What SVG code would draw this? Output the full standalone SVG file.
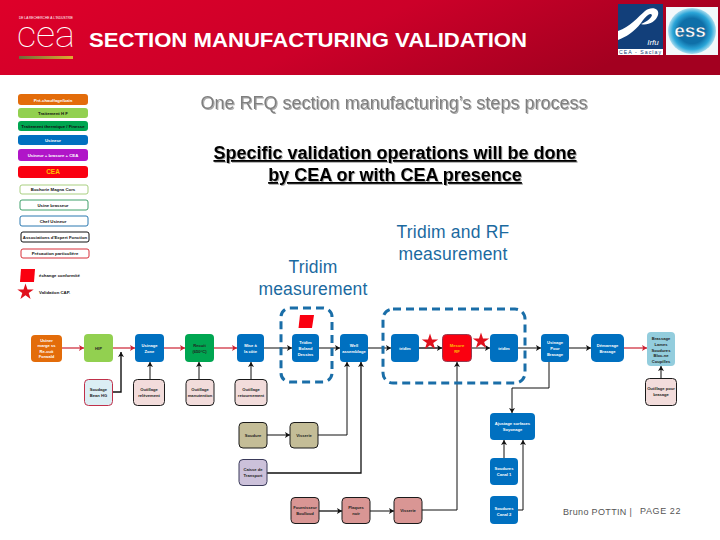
<svg xmlns="http://www.w3.org/2000/svg" width="720" height="540" viewBox="0 0 720 540">
<style>
text{font-family:"Liberation Sans",Arial,sans-serif;text-anchor:middle}
.n{stroke:none}
.k{stroke:#1a1a1a;stroke-width:1}
.l{font-size:4.1px;fill:#fff;font-weight:bold}
.d{font-size:4.1px;fill:#222;font-weight:bold}
.lg{font-size:4.3px;font-weight:bold;fill:#111}
.lw{font-size:4.3px;font-weight:bold;fill:#fff}
.lo{fill:#fff;stroke-width:1}
.wire{fill:none;stroke:#111;stroke-width:1;marker-end:url(#ab)}
.gw{fill:none;stroke:#666;stroke-width:1.6;marker-end:url(#ab)}
.rw{fill:none;stroke:#cc2233;stroke-width:1.2;marker-end:url(#ar)}
.dash{fill:none;stroke:#1a6ea8;stroke-width:3;stroke-dasharray:8 5}
.blue{font-size:17.500px;letter-spacing:.2px;fill:#1b6a9f}
.head{font-size:18px;font-weight:bold;fill:#000;text-decoration:underline}
</style>
<defs>
<linearGradient id="hd" x1="0" y1="0" x2="1" y2="0.25"><stop offset="0" stop-color="#de0029"/><stop offset="0.55" stop-color="#cc0029"/><stop offset="1" stop-color="#a30020"/></linearGradient>
<linearGradient id="bar"><stop offset="0" stop-color="#6e6a3a"/><stop offset="1" stop-color="#e0aa30"/></linearGradient>
<radialGradient id="essg" cx="0.5" cy="0.5" r="0.5"><stop offset="0.55" stop-color="#0f6fa8"/><stop offset="0.8" stop-color="#2aa5d8"/><stop offset="1" stop-color="#a8dcef"/></radialGradient>
<filter id="sh" x="-5%" y="-20%" width="110%" height="150%"><feDropShadow dx="1" dy="1" stdDeviation="0.5" flood-color="#000" flood-opacity="0.35"/></filter>
<marker id="ab" markerWidth="6" markerHeight="6" refX="5" refY="3" orient="auto" markerUnits="userSpaceOnUse"><path d="M0 0L5 3L0 6L1.2 3Z" fill="#111"/></marker>
<marker id="ar" markerWidth="6" markerHeight="6" refX="5" refY="3" orient="auto" markerUnits="userSpaceOnUse"><path d="M0 0L5 3L0 6L1.2 3Z" fill="#cc2233"/></marker>
<path id="star" d="M0-8.5L2-2.6H8.2L3.2 1L5.1 7L0 3.3L-5.1 7L-3.2 1L-8.2-2.6H-2Z" fill="#e0101c"/>
</defs>

<g id="header">
<rect width="720" height="75" fill="url(#hd)"/>
<text x="46" y="19" font-size="4" fill="#fff" textLength="54" lengthAdjust="spacingAndGlyphs">DE LA RECHERCHE À L'INDUSTRIE</text>
<text x="46" y="47" font-size="37" fill="#fff" style="font-family:Roboto,'Liberation Sans',sans-serif;font-weight:100" textLength="58" lengthAdjust="spacingAndGlyphs">cea</text>
<rect x="19" y="56" width="54" height="3" fill="url(#bar)"/>
<text x="89" y="47" font-size="21" fill="#fff" style="text-anchor:start;font-weight:bold" textLength="438" lengthAdjust="spacingAndGlyphs">SECTION MANUFACTURING VALIDATION</text>
</g>
<g id="logo-irfu">
<rect x="618" y="4" width="45" height="51" fill="#123f7a"/>
<rect x="618" y="49" width="45" height="6" fill="#fff"/>
<path d="M618 31C630 27 638 17 645 11C651 6 660 8 658 15C656 22 647 26 641 24C646 22 651 19 652 15C650 12 646 16 641 23C634 32 626 37 618 40Z" fill="#fff"/>
<text x="653" y="45" font-size="8" fill="#fff" font-style="italic">Irfu</text>
<text x="640" y="54" font-size="5.2" fill="#123f7a" textLength="42" lengthAdjust="spacing">CEA - Saclay</text>
</g>
<g id="logo-ess">
<rect x="666" y="7" width="52" height="48" fill="#f2f8fb"/>
<ellipse cx="692" cy="31" rx="24" ry="23" fill="url(#essg)"/>
<text x="690" y="37" font-size="19" fill="#fff" font-weight="bold" stroke="#0f4f80" stroke-width=".4">ess</text>
</g>

<g id="titles">
<text x="394" y="109" font-size="18" fill="#7f7f7f" filter="url(#sh)">One RFQ section manufacturing’s steps process</text>
<text x="395" y="159" class="head" filter="url(#sh)">Specific validation operations will be done</text>
<text x="395" y="181" class="head" filter="url(#sh)">by CEA or with CEA presence</text>
<text x="453" y="238" class="blue">Tridim and RF</text>
<text x="453" y="260" class="blue">measurement</text>
<text x="313" y="273" class="blue">Tridim</text>
<text x="313" y="295" class="blue">measurement</text>
</g>

<g id="legend">
<g id="lg1"><rect x="18" y="94" width="70" height="11" rx="3" fill="#e36c0a"/><text x="53" y="101.500" class="lw">Pré-chauffage/bain</text></g>
<g id="lg2"><rect x="18" y="108" width="70" height="10" rx="3" fill="#92d050"/><text x="53" y="114.500" class="lg">Traitement H F</text></g>
<g id="lg3"><rect x="18" y="121" width="70" height="10" rx="3" fill="#00a651"/><text x="53" y="127.500" class="lg">Traitement thermique / Finesse</text></g>
<g id="lg4"><rect x="18" y="135" width="70" height="10" rx="3" fill="#0070c0"/><text x="53" y="141.500" class="lw">Usineur</text></g>
<g id="lg5"><rect x="18" y="149" width="70" height="12" rx="3" fill="#b015c8"/><text x="53" y="156.500" class="lw">Usineur + brasure + CEA</text></g>
<g id="lg6"><rect x="18" y="166" width="70" height="12" rx="3" fill="#fa0010"/><text x="53" y="174" font-size="6.5" font-weight="bold" fill="#ffc000">CEA</text></g>
<g id="lg7"><rect x="20" y="185" width="68" height="9" rx="2" class="lo" stroke="#a9cf80"/><text x="53" y="191" class="lg">Bochorie Magna Cors</text></g>
<g id="lg8"><rect x="20" y="200" width="68" height="10" rx="2" class="lo" stroke="#3fa06a"/><text x="53" y="206.500" class="lg">Usine brasseur</text></g>
<g id="lg9"><rect x="20" y="216" width="68" height="10" rx="2" class="lo" stroke="#2a78b0"/><text x="53" y="222.500" class="lg">Chef Usineur</text></g>
<g id="lg10"><rect x="21" y="232" width="68" height="10" rx="2" class="lo" stroke="#111"/><text x="55" y="238.500" class="lg">Associations d'Expert Fonction</text></g>
<g id="lg11"><rect x="21" y="249" width="68" height="9" rx="2" class="lo" stroke="#d8303a"/><text x="55" y="255" class="lg">Précaution particulière</text></g>
<g id="lg12"><path d="M21 269H35L34 282H20Z" fill="#fa0010"/><text x="39" y="277" class="lg" style="text-anchor:start">échange conformité</text></g>
<g id="lg13"><use href="#star" transform="translate(25.500,292)"/><text x="39" y="294" class="lg" style="text-anchor:start">Validation CAP.</text></g>
</g>

<g id="connectors">
<path class="rw" d="M62 348H84"/>
<path class="rw" d="M113 348H135"/>
<path class="rw" d="M164 348H185"/>
<path class="rw" d="M214 348H237"/>
<path class="gw" d="M264 348H292"/>
<path class="gw" d="M319 348H340"/>
<path class="gw" d="M368 348H391"/>
<path class="wire" d="M419 348H442" style="stroke-width:1.400"/>
<path class="gw" d="M472 348H490"/>
<path class="gw" d="M518 348H541"/>
<path class="gw" d="M569 348H591"/>
<path class="rw" d="M624 348H647"/>
<path class="wire" d="M112 392H121V352" style="stroke-width:1.400"/>
<path class="wire" d="M150 379V362"/>
<path class="wire" d="M199 379V362"/>
<path class="wire" d="M251 379V362"/>
<path class="gw" d="M661 378V366"/>
<path class="gw" d="M267 435H290"/>
<path class="wire" d="M318 435H347V362"/>
<path class="wire" d="M267 473H361V362" style="stroke-width:1.300"/>
<path class="wire" d="M319 511H342" style="stroke-width:1.300"/>
<path class="gw" d="M370 511H394"/>
<path class="wire" d="M422 510H457V362"/>
<path class="wire" d="M549 362V388H512V413"/>
<path class="wire" d="M504 458V440"/>
<path class="wire" d="M518 510H523V440"/>
</g>

<g id="dashed">
<rect class="dash" x="281" y="308" width="51" height="74" rx="9"/>
<rect class="dash" x="383" y="309" width="142" height="74" rx="10"/>
</g>

<g id="n-usiner"><rect x="31" y="335" width="31" height="27" rx="4" fill="#e36c0a"/><text class="l" x="46.500" y="341.500">Usiner</text><text class="l" x="46.500" y="347">marge ss</text><text class="l" x="46.500" y="352.500">Re-cuit</text><text class="l" x="46.500" y="358">Forwald</text></g>
<g id="n-hip"><rect x="84" y="334" width="29" height="28" rx="4" fill="#92d050"/><text class="d" x="98.500" y="350">HIP</text></g>
<g id="n-usinage"><rect x="135" y="334" width="29" height="28" rx="4" fill="#0070c0"/><text class="l" x="149.500" y="347">Usinage</text><text class="l" x="149.500" y="353">Zone</text></g>
<g id="n-recuit"><rect x="185" y="334" width="29" height="28" rx="4" fill="#00a651"/><text class="d" x="199.500" y="347">Recuit</text><text class="d" x="199.500" y="353">(650°C)</text></g>
<g id="n-mise"><rect x="237" y="334" width="27" height="28" rx="4" fill="#0070c0"/><text class="l" x="250.500" y="347">Mise à</text><text class="l" x="250.500" y="353">la côte</text></g>
<g id="n-tridim1"><rect x="292" y="334" width="27" height="28" rx="4" fill="#0070c0"/><text class="l" x="305.500" y="344">Tridim</text><text class="l" x="305.500" y="350">Boland</text><text class="l" x="305.500" y="356">Dessins</text></g>
<g id="n-well"><rect x="340" y="334" width="28" height="28" rx="4" fill="#0070c0"/><text class="l" x="354" y="347">Well</text><text class="l" x="354" y="353">assemblage</text></g>
<g id="n-tridim2"><rect x="391" y="334" width="28" height="28" rx="4" fill="#0070c0"/><text class="l" x="405" y="350">tridim</text></g>
<g id="n-rf"><rect x="442.500" y="334.500" width="29" height="27" rx="4" fill="#fa0010" stroke="#953b50"/><text class="l" x="457" y="347" style="fill:#ffc000">Mesure</text><text class="l" x="457" y="353" style="fill:#ffc000">RF</text></g>
<g id="n-tridim3"><rect x="490" y="334" width="28" height="28" rx="4" fill="#0070c0"/><text class="l" x="504" y="350">tridim</text></g>
<g id="n-etalage"><rect x="541" y="334" width="28" height="28" rx="4" fill="#0070c0"/><text class="l" x="555" y="344">Usinage</text><text class="l" x="555" y="350">Pour</text><text class="l" x="555" y="356">Brasage</text></g>
<g id="n-demarrage"><rect x="591" y="334" width="33" height="28" rx="5" fill="#0070c0"/><text class="l" x="607.500" y="347">Démarrage</text><text class="l" x="607.500" y="353">Brasage</text></g>
<g id="n-brassage"><rect x="647" y="332" width="28" height="34" rx="4" fill="#93cddd"/><text class="d" x="661" y="339.500">Brassage</text><text class="d" x="661" y="345.500">Lames</text><text class="d" x="661" y="351.500">Soudures</text><text class="d" x="661" y="357">Bloc-ne</text><text class="d" x="661" y="362.500">Coupilles</text></g>

<g id="n-soudage"><rect x="84.500" y="379.500" width="28" height="26" rx="4" fill="#dbeef4" stroke="#c0304a"/><text class="d" x="98.500" y="391">Soudage</text><text class="d" x="98.500" y="397">Bean HG</text></g>
<g id="n-out1"><rect x="133.500" y="379.500" width="31" height="26" rx="4" fill="#f2dcdb" class="k"/><text class="d" x="149" y="391">Outillage</text><text class="d" x="149" y="397">relèvement</text></g>
<g id="n-out2"><rect x="186" y="379.500" width="28" height="26" rx="4" fill="#f2dcdb" class="k"/><text class="d" x="200" y="391">Outillage</text><text class="d" x="200" y="397">manutention</text></g>
<g id="n-out3"><rect x="235" y="379.500" width="32" height="26" rx="4" fill="#f2dcdb" class="k"/><text class="d" x="251" y="391">Outillage</text><text class="d" x="251" y="397">retournement</text></g>
<g id="n-out4"><rect x="645.500" y="378.500" width="31" height="27" rx="4" fill="#f2dcdb" class="k"/><text class="d" x="661" y="390">Outillage pour</text><text class="d" x="661" y="396">brasage</text></g>

<g id="n-soudure"><rect x="239" y="422.500" width="28" height="25.500" rx="4" fill="#c4bd97" class="k"/><text class="d" x="253" y="437">Soudure</text></g>
<g id="n-visserie1"><rect x="290" y="422.500" width="28" height="25.500" rx="4" fill="#c4bd97" class="k"/><text class="d" x="304" y="437">Visserie</text></g>
<g id="n-transport"><rect x="239" y="459.500" width="28" height="26" rx="4" fill="#ccc1da" stroke="#3a3a5a"/><text class="d" x="253" y="471">Caisse de</text><text class="d" x="253" y="477">Transport</text></g>
<g id="n-fournisseur"><rect x="291" y="497.500" width="28" height="26" rx="4" fill="#d99694" class="k"/><text class="d" x="305" y="509">Fournisseur</text><text class="d" x="305" y="515">Boulloud</text></g>
<g id="n-plaques"><rect x="342" y="497.500" width="28" height="26" rx="4" fill="#d99694" class="k"/><text class="d" x="356" y="509">Plaques</text><text class="d" x="356" y="515">noir</text></g>
<g id="n-visserie2"><rect x="394" y="497.500" width="28" height="26" rx="4" fill="#d99694" class="k"/><text class="d" x="408" y="512">Visserie</text></g>
<g id="n-ajustage"><rect x="490" y="413" width="45" height="27" rx="4" fill="#0070c0"/><text class="l" x="512.500" y="425">Ajustage surfaces</text><text class="l" x="512.500" y="431">Soyonage</text></g>
<g id="n-soud1"><rect x="490" y="458" width="28" height="27" rx="4" fill="#0070c0"/><text class="l" x="504" y="470">Soudures</text><text class="l" x="504" y="476">Canal 1</text></g>
<g id="n-soud2"><rect x="490" y="496" width="28" height="28" rx="4" fill="#0070c0"/><text class="l" x="504" y="510">Soudures</text><text class="l" x="504" y="516">Canal 2</text></g>

<g id="marks">
<path d="M300 315H314L312 328H298.500Z" fill="#fa0010"/>
<use href="#star" transform="translate(430,342)"/>
<use href="#star" transform="translate(481,341)"/>
</g>

<g id="footer">
<text x="563" y="515" font-size="9" fill="#555" style="text-anchor:start;letter-spacing:.35px">Bruno POTTIN |</text>
<text x="640" y="514" font-size="9" fill="#555" style="text-anchor:start;letter-spacing:.6px">PAGE 22</text>
</g>
</svg>
